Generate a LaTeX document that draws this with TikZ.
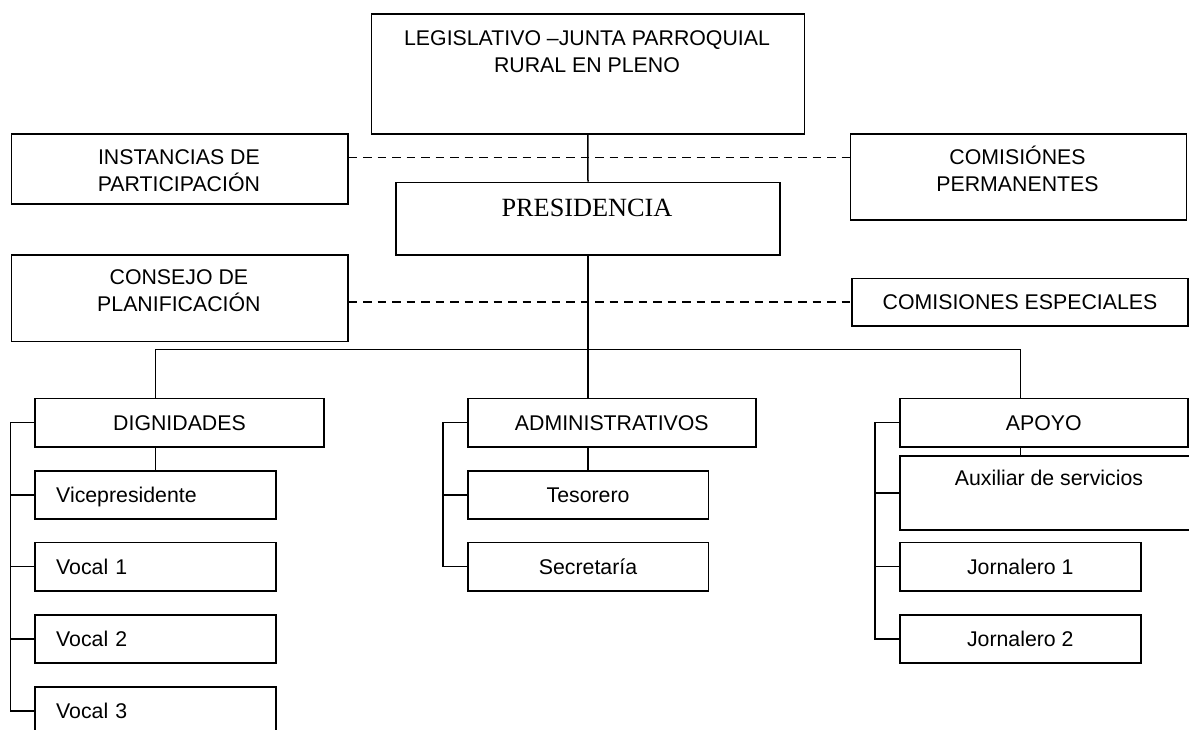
\documentclass[tikz,border=0pt]{standalone}
\usepackage{fontspec}
\setmainfont{Liberation Sans}
\newfontfamily\serifpres{Liberation Serif}
\begin{document}
\begin{tikzpicture}[x=1pt,y=-1pt,
  box/.style={draw, line width=1.6pt, inner sep=0pt, anchor=north west},
  txt/.style={font=\fontsize{21.3}{27}\selectfont, inner sep=0pt, align=center},
  one/.style={text height=15.25pt, text depth=0pt},
  lefttext/.style={align=left, inner xsep=21pt, text width=198.6pt},
  link/.style={line width=1.5pt},
  dash line/.style={line width=1.5pt, dash pattern=on 8.5pt off 6pt}]
\useasboundingbox (0,0) rectangle (1189,729);
\fill[white] (0,0) rectangle (1189,729);

% top level
\node[box, minimum width=433pt, minimum height=120pt] (leg) at (370.5,13.3) {};
\node[txt] (legt) at (587,53.2) {\strut LEGISLATIVO –JUNTA PARROQUIAL\\\strut RURAL EN PLENO};

\node[box, minimum width=336.3pt, minimum height=70pt] (inst) at (10.7,133.3) {};
\node[txt] (instt) at (178.9,172.7) {\strut INSTANCIAS DE\\\strut PARTICIPACIÓN};

\node[box, minimum width=336pt, minimum height=86pt] (com) at (849.5,133.3) {};
\node[txt] (comt) at (1017.5,172.7) {\strut COMISIÓNES\\\strut PERMANENTES};

\node[box, minimum width=384.4pt, minimum height=72.3pt] (pres) at (395,181.7) {};
\node[font=\serifpres\fontsize{26.3}{30}\selectfont, inner sep=0pt, text height=17.4pt, text depth=0pt] (prest) at (587,208) {PRESIDENCIA};

\node[box, minimum width=336.3pt, minimum height=86.7pt] (con) at (10.7,254) {};
\node[txt] (cont) at (178.9,292.2) {\strut CONSEJO DE\\\strut PLANIFICACIÓN};

\node[box, txt, one, minimum width=335.6pt, minimum height=47.3pt] (esp) at (851.4,277.7) {COMISIONES ESPECIALES};

% second level
\node[box, txt, one, minimum width=288.6pt, minimum height=48.3pt] (dig) at (34.4,397.7) {DIGNIDADES};
\node[box, txt, one, minimum width=288pt, minimum height=48.3pt] (adm) at (467,397.7) {ADMINISTRATIVOS};
\node[box, txt, one, minimum width=288pt, minimum height=48.3pt] (apo) at (899,397.7) {APOYO};

% dignidades
\node[box, txt, one, lefttext, minimum width=240.6pt, minimum height=48.3pt] (vp) at (34.4,470) {Vicepresidente};
\node[box, txt, one, lefttext, minimum width=240.6pt, minimum height=48.3pt] (v1) at (34.4,541.7) {Vocal 1};
\node[box, txt, one, lefttext, minimum width=240.6pt, minimum height=48.3pt] (v2) at (34.4,614) {Vocal 2};
\node[box, txt, one, lefttext, minimum width=240.6pt, minimum height=48.3pt] (v3) at (34.4,686) {Vocal 3};

% administrativos
\node[box, txt, one, minimum width=240.5pt, minimum height=48.3pt] (tes) at (467,470) {Tesorero};
\node[box, txt, one, minimum width=240.5pt, minimum height=48.3pt] (sec) at (467,541.7) {Secretaría};

% apoyo
\node[box, minimum width=300pt, minimum height=74.3pt] (aux) at (899,455) {};
\node[txt, one] (auxt) at (1049,477.7) {Auxiliar de servicios};
\node[box, txt, one, minimum width=241pt, minimum height=48.3pt] (j1) at (899,541.7) {Jornalero 1};
\node[box, txt, one, minimum width=241pt, minimum height=48.3pt] (j2) at (899,614) {Jornalero 2};

% main connectors
\coordinate (bar) at (587,349.3);
\draw[link] (leg.south) -- (pres.north);
\draw[link] (pres.south) -- (pres.south |- adm.north);
\draw[link] (vp.north |- dig.north) -- (vp.north |- bar) -- (j1.north |- bar) -- (j1.north |- apo.north);
\draw[link] (vp.north |- dig.south) -- (vp.north);
\draw[link] (tes.north |- adm.south) -- (tes.north);
\draw[link] (j1.north |- apo.south) -- (j1.north |- aux.north);

% dashed connectors
\coordinate (d1) at (0,157.7);
\draw[dash line] (inst.east |- d1) -- (com.west |- d1);
\draw[dash line] (con.east |- esp.west) -- (esp.west);

% brackets
\coordinate (bd) at (10.7,0);
\draw[link] (dig.west) -- (dig.west -| bd) -- (v3.west -| bd) -- (v3.west);
\foreach \n in {vp,v1,v2} \draw[link] (\n.west -| bd) -- (\n.west);

\coordinate (ba) at (443,0);
\draw[link] (adm.west) -- (adm.west -| ba) -- (sec.west -| ba) -- (sec.west);
\draw[link] (tes.west -| ba) -- (tes.west);

\coordinate (bp) at (875,0);
\draw[link] (apo.west) -- (apo.west -| bp) -- (j2.west -| bp) -- (j2.west);
\foreach \n in {aux,j1} \draw[link] (\n.west -| bp) -- (\n.west);
\end{tikzpicture}
\end{document}
